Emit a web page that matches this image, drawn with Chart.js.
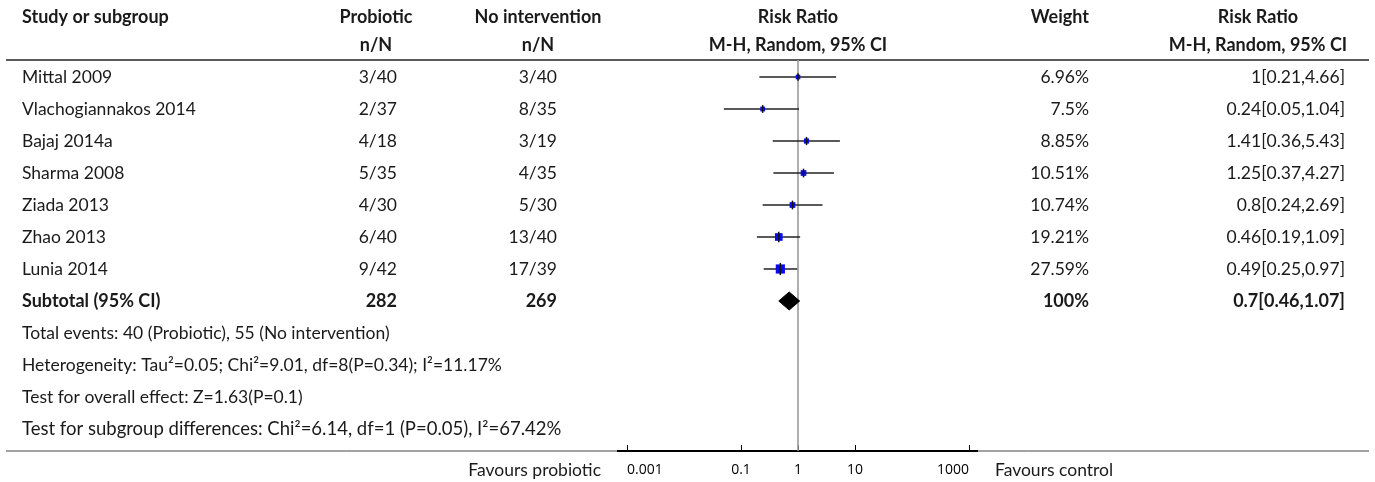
<!DOCTYPE html>
<html><head><meta charset="utf-8">
<script src="https://cdn.jsdelivr.net/npm/chart.js@4/dist/chart.umd.min.js"></script>
<style>html,body{margin:0;padding:0;background:#fff;overflow:hidden}canvas{display:block}</style>
</head><body>
<canvas id="c" width="1375" height="482"></canvas>
<script>
// ---- data ----
const studies = ["Mittal 2009","Vlachogiannakos 2014","Bajaj 2014a","Sharma 2008","Ziada 2013","Zhao 2013","Lunia 2014"];
const probioticEvents = [3,2,4,5,4,6,9];
const probioticTotal = [40,37,18,35,30,40,42];
const controlEvents = [3,8,3,4,5,13,17];
const controlTotal = [40,35,19,35,30,40,39];
const weights = [6.96,7.5,8.85,10.51,10.74,19.21,27.59];
const riskRatio = [1,0.24,1.41,1.25,0.8,0.46,0.49];
const ciLow = [0.21,0.05,0.36,0.37,0.24,0.19,0.25];
const ciHigh = [4.66,1.04,5.43,4.27,2.69,1.09,0.97];
const subtotalLabel = "Subtotal (95% CI)";
const subtotalProbiotic = 282;
const subtotalControl = 269;
const subtotalWeight = 100;
const subtotalRR = 0.7, subtotalLow = 0.46, subtotalHigh = 1.07;
const footnotes = [
  "Total events: 40 (Probiotic), 55 (No intervention)",
  "Heterogeneity: Tau\u00B2=0.05; Chi\u00B2=9.01, df=8(P=0.34); I\u00B2=11.17%",
  "Test for overall effect: Z=1.63(P=0.1)",
  "Test for subgroup differences: Chi\u00B2=6.14, df=1 (P=0.05), I\u00B2=67.42%"
];
const xTicks = [0.001,0.1,1,10,1000];
const leftLabel = "Favours probiotic";
const rightLabel = "Favours control";

// ---- styling ----
const FONT = "Lato, 'Open Sans', sans-serif";
const TXT = '#1a1a1a';
const subRow = studies.length;
const boxSide = w => 1.75 * Math.sqrt(w);

const datasets = [];
// reference line at RR = 1
datasets.push({type:'line', data:[{x:1,y:-0.53125},{x:1,y:11.6875}], borderColor:'#9a9a9a', borderWidth:1.6, pointRadius:0, order:5});
// CI lines
studies.forEach((s,i)=>{
  datasets.push({type:'line', data:[{x:ciLow[i],y:i},{x:ciHigh[i],y:i}], borderColor:'#222', borderWidth:1.6, pointRadius:0, order:4});
});
// boxes
datasets.push({type:'scatter', data: riskRatio.map((v,i)=>({x:v,y:i})), pointStyle:'rect',
  pointRadius: weights.map(w=>boxSide(w)/Math.SQRT2), backgroundColor:'#0a0af0', borderWidth:0, order:3});
// vertical ticks through estimates
datasets.push({type:'scatter', data: riskRatio.map((v,i)=>({x:v,y:i})), pointStyle:'line', rotation:90,
  pointRadius: weights.map(w=>boxSide(w)/2+1.5), borderColor:'#111', borderWidth:1.5, backgroundColor:'#111', order:2});
// diamond
const dh = 9/32;
datasets.push({type:'line', data:[{x:subtotalLow,y:subRow},{x:subtotalRR,y:subRow-dh},{x:subtotalHigh,y:subRow},{x:subtotalRR,y:subRow+dh},{x:subtotalLow,y:subRow}],
  borderColor:'#000', borderWidth:1, backgroundColor:'#000', fill:'shape', pointRadius:0, tension:0, order:1});

const tablePlugin = {
  id:'table',
  beforeDatasetsDraw(chart){
    const {ctx, scales:{x}} = chart;
    ctx.save();
    ctx.strokeStyle = '#222'; ctx.lineWidth = 1.6;
    ctx.beginPath(); ctx.moveTo(6,60); ctx.lineTo(1369,60); ctx.stroke();
    ctx.strokeStyle = '#444'; ctx.lineWidth = 1;
    ctx.beginPath(); ctx.moveTo(6,451); ctx.lineTo(1369,451); ctx.stroke();
    ctx.strokeStyle = '#000'; ctx.lineWidth = 2;
    const x0 = x.getPixelForValue(xTicks[0]), x1 = x.getPixelForValue(xTicks[xTicks.length-1]);
    ctx.beginPath(); ctx.moveTo(x0-10,451); ctx.lineTo(x1+9,451); ctx.stroke();
    ctx.lineWidth = 1;
    xTicks.forEach(v=>{const px = Math.round(x.getPixelForValue(v))+0.5; ctx.beginPath(); ctx.moveTo(px,445); ctx.lineTo(px,451); ctx.stroke();});
    ctx.restore();
  },
  afterDraw(chart){
    const {ctx, scales:{y}} = chart;
    const ry = r => y.getPixelForValue(r);
    ctx.save();
    ctx.textBaseline = 'middle';
    ctx.fillStyle = TXT;
    function t(s, px, py, align, bold, size){
      ctx.font = (bold?'bold ':'') + (size||17.5) + 'px ' + FONT;
      ctx.textAlign = align; ctx.fillText(s, px, py);
    }
    const HB = 18;
    // header
    t("Study or subgroup", 22, 17, 'left', true, HB);
    t("Probiotic", 376, 17, 'center', true, HB);
    t("n/N", 376, 45, 'center', true, HB);
    t("No intervention", 538, 17, 'center', true, HB);
    t("n/N", 538, 45, 'center', true, HB);
    t("Risk Ratio", 798, 17, 'center', true, HB);
    t("M-H, Random, 95% CI", 798, 45, 'center', true, HB);
    t("Weight", 1089, 17, 'right', true, HB);
    t("Risk Ratio", 1258, 17, 'center', true, HB);
    t("M-H, Random, 95% CI", 1258, 45, 'center', true, HB);
    // studies
    studies.forEach((s,i)=>{
      const py = ry(i);
      t(s, 22, py, 'left', false);
      t(probioticEvents[i]+'/'+probioticTotal[i], 397, py, 'right', false);
      t(controlEvents[i]+'/'+controlTotal[i], 557, py, 'right', false);
      t(weights[i]+'%', 1089, py, 'right', false);
      t(riskRatio[i]+'['+ciLow[i]+','+ciHigh[i]+']', 1345, py, 'right', false);
    });
    const sy = ry(subRow);
    t(subtotalLabel, 22, sy, 'left', true, HB);
    t(String(subtotalProbiotic), 397, sy, 'right', true, HB);
    t(String(subtotalControl), 557, sy, 'right', true, HB);
    t(subtotalWeight+'%', 1089, sy, 'right', true, HB);
    t(subtotalRR+'['+subtotalLow+','+subtotalHigh+']', 1345, sy, 'right', true, HB);
    footnotes.forEach((f,k)=> t(f, 22, ry(subRow+1+k), 'left', false, k===footnotes.length-1 ? 18.5 : 17.5));
    // favours labels
    t(leftLabel, 601, 470, 'right', false, 17.5);
    t(rightLabel, 995, 470, 'left', false, 17.5);
    ctx.restore();
  }
};

new Chart(document.getElementById('c'), {
  data:{datasets},
  options:{
    responsive:false, animation:false, devicePixelRatio:1, events:[],
    layout:{padding:{left:627, right:406, top:60, bottom:0}},
    plugins:{legend:{display:false}, tooltip:{enabled:false}},
    scales:{
      x:{type:'logarithmic', min:0.001, max:1000, position:'bottom',
        grid:{display:false}, border:{display:false},
        afterBuildTicks: s => { s.ticks = xTicks.map(v=>({value:v})); },
        afterFit: s => { s.height = 31; },
        ticks:{autoSkip:false, maxRotation:0, padding:3, align:'inner', color:'#000', font:{family:"'Open Sans', sans-serif", size:14},
          callback: v => String(v)}},
      y:{type:'linear', display:false, reverse:true, min:-0.53125, max:11.6875}
    }
  },
  plugins:[tablePlugin]
});
</script>
</body></html>
